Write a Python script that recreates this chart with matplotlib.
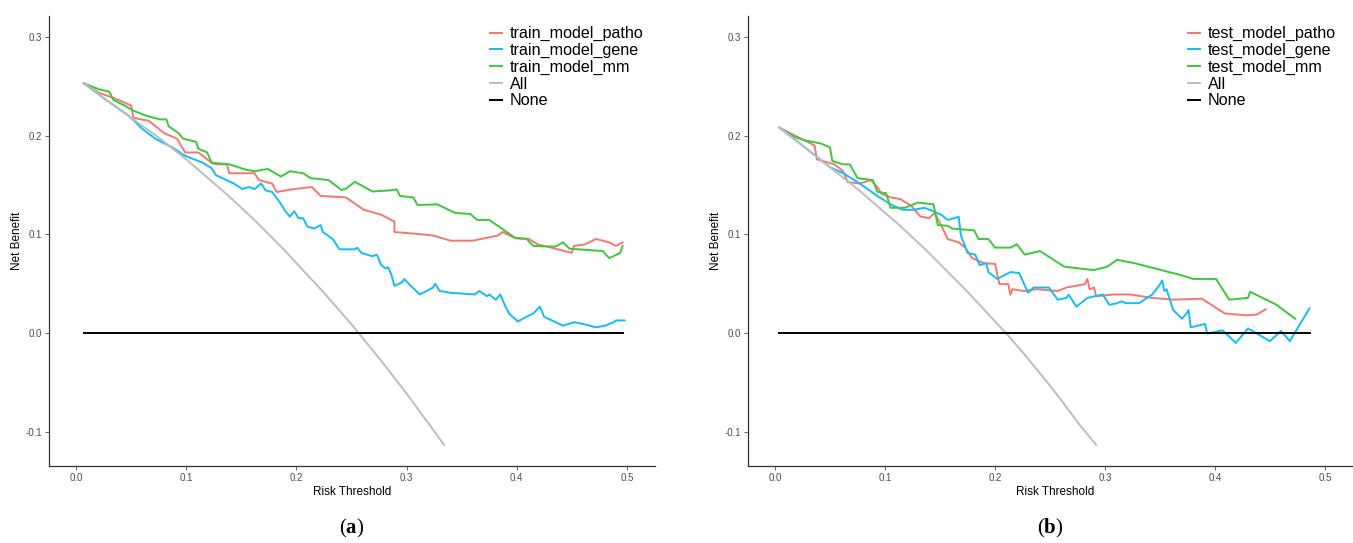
import numpy as np
import matplotlib
matplotlib.use("Agg")
import matplotlib.pyplot as plt

plt.rcParams['font.family'] = ['Liberation Sans', 'DejaVu Sans']
plt.rcParams['mathtext.fontset'] = 'custom'
plt.rcParams['mathtext.bf'] = 'Liberation Serif:bold'
plt.rcParams['mathtext.rm'] = 'Liberation Serif'

# colours (ggplot-like)
RED = '#F8766D'
BLUE = '#14BDF5'
GREEN = '#3CC83C'
GREY = '#BDBDBD'

# ---- panel (a): training set ----
tr_all_x = [0.007, 0.0125, 0.025, 0.0375, 0.05, 0.0625, 0.075, 0.0875, 0.1, 0.1125, 0.125, 0.1375, 0.15,
            0.1625, 0.175, 0.1875, 0.2, 0.2125, 0.225, 0.2375, 0.25, 0.2625, 0.275, 0.2875, 0.3, 0.3125,
            0.325, 0.334]
tr_all_y = [0.253, 0.249, 0.238, 0.228, 0.218, 0.208, 0.198, 0.187, 0.176, 0.164, 0.152, 0.140, 0.127,
            0.114, 0.100, 0.086, 0.071, 0.056, 0.041, 0.025, 0.009, -0.008, -0.025, -0.043, -0.061, -0.080,
            -0.099, -0.113]

tr_patho_x = [0.007, 0.0205, 0.0355, 0.050, 0.052, 0.066, 0.080, 0.0915, 0.099, 0.111, 0.123, 0.127, 0.137,
              0.139, 0.162, 0.166, 0.178, 0.182, 0.198, 0.214, 0.222, 0.245, 0.261, 0.277, 0.289, 0.289,
              0.308, 0.324, 0.340, 0.360, 0.383, 0.387, 0.397, 0.411, 0.419, 0.431, 0.450, 0.452, 0.462,
              0.472, 0.478, 0.484, 0.490, 0.496]
tr_patho_y = [0.253, 0.2435, 0.2375, 0.2305, 0.218, 0.215, 0.2025, 0.197, 0.183, 0.183, 0.1725, 0.171, 0.171,
              0.162, 0.162, 0.155, 0.1515, 0.143, 0.146, 0.148, 0.139, 0.1375, 0.125, 0.120, 0.113, 0.1025,
              0.1007, 0.099, 0.0937, 0.0937, 0.099, 0.1025, 0.097, 0.0954, 0.090, 0.0867, 0.0814, 0.0884, 0.090,
              0.0954, 0.0937, 0.092, 0.0884, 0.092]

tr_gene_x = [0.007, 0.025, 0.048, 0.060, 0.0718, 0.0875, 0.099, 0.115, 0.123, 0.127, 0.143, 0.151, 0.157,
             0.162, 0.168, 0.172, 0.178, 0.184, 0.190, 0.194, 0.198, 0.202, 0.206, 0.210, 0.216, 0.222,
             0.224, 0.233, 0.239, 0.253, 0.255, 0.259, 0.269, 0.273, 0.277, 0.281, 0.283, 0.286, 0.289,
             0.296, 0.298, 0.302, 0.312, 0.318, 0.324, 0.326, 0.330, 0.340, 0.362, 0.366, 0.373, 0.375,
             0.381, 0.385, 0.389, 0.393, 0.401, 0.411, 0.415, 0.421, 0.425, 0.432, 0.442, 0.452, 0.460,
             0.472, 0.480, 0.488, 0.490, 0.498]
tr_gene_y = [0.253, 0.238, 0.220, 0.207, 0.197, 0.188, 0.1796, 0.1726, 0.167, 0.160, 0.1516, 0.146, 0.148,
             0.146, 0.1516, 0.1446, 0.143, 0.134, 0.1235, 0.118, 0.1235, 0.1165, 0.1165, 0.108, 0.106, 0.1095,
             0.1025, 0.0954, 0.085, 0.085, 0.0867, 0.0814, 0.0779, 0.0796, 0.069, 0.0656, 0.067, 0.060, 0.048,
             0.0516, 0.055, 0.050, 0.0393, 0.0428, 0.0463, 0.050, 0.0428, 0.041, 0.0393, 0.0428, 0.0375, 0.0393,
             0.034, 0.0393, 0.0288, 0.020, 0.012, 0.018, 0.020, 0.027, 0.0165, 0.013, 0.0077, 0.0112, 0.0095,
             0.006, 0.0077, 0.0112, 0.013, 0.013]

tr_mm_x = [0.007, 0.0205, 0.030, 0.034, 0.044, 0.052, 0.064, 0.076, 0.082, 0.084, 0.093, 0.097, 0.109,
           0.111, 0.119, 0.123, 0.139, 0.154, 0.162, 0.174, 0.186, 0.194, 0.206, 0.213, 0.229, 0.241,
           0.245, 0.253, 0.269, 0.285, 0.291, 0.294, 0.306, 0.310, 0.328, 0.344, 0.358, 0.364, 0.375,
           0.389, 0.399, 0.409, 0.415, 0.435, 0.442, 0.448, 0.466, 0.478, 0.484, 0.494, 0.496]
tr_mm_y = [0.253, 0.247, 0.2446, 0.236, 0.2305, 0.2253, 0.220, 0.2165, 0.2165, 0.2095, 0.2025, 0.197, 0.1937,
           0.1867, 0.183, 0.1726, 0.171, 0.1656, 0.164, 0.1663, 0.1586, 0.164, 0.162, 0.157, 0.1551, 0.145,
           0.1463, 0.1533, 0.1435, 0.1446, 0.1456, 0.139, 0.1375, 0.1298, 0.1305, 0.1218, 0.1207, 0.1147, 0.1147,
           0.104, 0.0961, 0.0954, 0.0884, 0.0877, 0.092, 0.0856, 0.0842, 0.0832, 0.0761, 0.0814, 0.0884]

tr_none_x = [0.007, 0.496]
tr_none_y = [0.0, 0.0]

# ---- panel (b): test set ----
te_all_x = [0.004, 0.0125, 0.025, 0.0375, 0.05, 0.0625, 0.075, 0.0875, 0.1, 0.1125, 0.125, 0.1375, 0.15,
            0.1625, 0.175, 0.1875, 0.2, 0.2125, 0.225, 0.2375, 0.25, 0.2625, 0.275, 0.2875, 0.292]
te_all_y = [0.208, 0.201, 0.190, 0.179, 0.168, 0.157, 0.146, 0.134, 0.122, 0.110, 0.097, 0.084, 0.070,
            0.056, 0.042, 0.027, 0.012, -0.003, -0.019, -0.036, -0.053, -0.071, -0.090, -0.107, -0.113]

te_patho_x = [0.004, 0.0265, 0.036, 0.038, 0.054, 0.062, 0.066, 0.077, 0.087, 0.093, 0.097, 0.105, 0.114,
              0.124, 0.132, 0.140, 0.145, 0.151, 0.157, 0.167, 0.173, 0.179, 0.190, 0.200, 0.204, 0.212,
              0.214, 0.216, 0.226, 0.238, 0.257, 0.265, 0.282, 0.284, 0.286, 0.290, 0.292, 0.308, 0.323,
              0.343, 0.362, 0.388, 0.409, 0.429, 0.438, 0.446]
te_patho_y = [0.208, 0.1954, 0.190, 0.176, 0.171, 0.1639, 0.153, 0.1516, 0.155, 0.148, 0.141, 0.1375, 0.1358,
              0.1288, 0.1182, 0.1165, 0.1218, 0.1095, 0.0954, 0.092, 0.0867, 0.0761, 0.0709, 0.0702, 0.0498, 0.0498,
              0.039, 0.0446, 0.0428, 0.0446, 0.0428, 0.0463, 0.0498, 0.055, 0.0446, 0.0463, 0.0375, 0.0393, 0.0393,
              0.0358, 0.034, 0.035, 0.020, 0.0182, 0.019, 0.0242]

te_gene_x = [0.004, 0.025, 0.05, 0.062, 0.077, 0.093, 0.105, 0.116, 0.126, 0.136, 0.144, 0.151, 0.157,
             0.165, 0.167, 0.169, 0.175, 0.182, 0.186, 0.192, 0.194, 0.202, 0.214, 0.222, 0.230, 0.235,
             0.249, 0.257, 0.265, 0.267, 0.274, 0.284, 0.298, 0.304, 0.311, 0.315, 0.319, 0.331, 0.343,
             0.349, 0.352, 0.354, 0.356, 0.362, 0.370, 0.374, 0.376, 0.378, 0.391, 0.393, 0.407, 0.419,
             0.430, 0.450, 0.460, 0.468, 0.486]
te_gene_y = [0.208, 0.190, 0.168, 0.162, 0.1516, 0.139, 0.1305, 0.125, 0.125, 0.127, 0.1235, 0.120, 0.1147,
             0.1172, 0.118, 0.099, 0.0814, 0.0796, 0.069, 0.0709, 0.062, 0.055, 0.062, 0.061, 0.041, 0.0463,
             0.0463, 0.034, 0.0358, 0.039, 0.027, 0.0358, 0.0393, 0.0288, 0.0305, 0.0323, 0.0305, 0.0305, 0.0393,
             0.048, 0.0533, 0.0428, 0.0446, 0.0235, 0.0147, 0.020, 0.0235, 0.006, 0.0095, -0.0004, 0.003, -0.0098,
             0.0049, -0.008, 0.0025, -0.008, 0.0253]

te_mm_x = [0.004, 0.017, 0.0265, 0.042, 0.050, 0.052, 0.062, 0.068, 0.075, 0.089, 0.093, 0.101, 0.105,
           0.118, 0.130, 0.144, 0.148, 0.157, 0.161, 0.181, 0.185, 0.194, 0.200, 0.214, 0.220, 0.227,
           0.241, 0.263, 0.290, 0.302, 0.311, 0.327, 0.370, 0.380, 0.401, 0.413, 0.430, 0.432, 0.456, 0.473]
te_mm_y = [0.208, 0.199, 0.1954, 0.192, 0.188, 0.1744, 0.171, 0.171, 0.157, 0.155, 0.143, 0.1418, 0.127,
           0.127, 0.1323, 0.1305, 0.1095, 0.1088, 0.106, 0.1042, 0.0954, 0.0954, 0.0867, 0.0867, 0.090, 0.0796,
           0.0832, 0.0674, 0.0639, 0.0674, 0.0744, 0.0709, 0.0586, 0.055, 0.055, 0.034, 0.0358, 0.042, 0.0288, 0.0147]

te_none_x = [0.004, 0.486]
te_none_y = [0.0, 0.0]

xticks = [0.0, 0.1, 0.2, 0.3, 0.4, 0.5]
yticks = [-0.1, 0.0, 0.1, 0.2, 0.3]

fig = plt.figure(figsize=(13.53, 5.43), dpi=100)
W, H = 1353, 543
ax1 = fig.add_axes([49 / W, 1 - 466 / H, (655 - 49) / W, (466 - 15.5) / H])
ax2 = fig.add_axes([748 / W, 1 - 466 / H, (1353 - 748) / W, (466 - 15.5) / H])


def draw_panel(ax, series, names, tag, xlab_x):
    for (x, y, c), name in zip(series, names):
        ax.plot(x, y, color=c, lw=1.4, label=name)
    ax.set_xlim(-0.0246, 0.5255)
    ax.set_ylim(-0.1343, 0.3216)
    ax.set_xticks(xticks)
    ax.set_xticklabels([f'{t:.1f}' for t in xticks])
    ax.set_yticks(yticks)
    ax.set_yticklabels([f'{t:.1f}' for t in yticks])
    ax.tick_params(labelsize=7, colors='#4D4D4D', length=3, width=0.6, pad=2)
    for s in ['top', 'right']:
        ax.spines[s].set_visible(False)
    for s in ['left', 'bottom']:
        ax.spines[s].set_linewidth(0.9)
        ax.spines[s].set_color('#333333')
    ax.set_xlabel('Risk Threshold', fontsize=8.5)
    ax.set_ylabel('Net Benefit', fontsize=8.5)
    ax.xaxis.set_label_coords(xlab_x, -0.044)
    ax.yaxis.set_label_coords(-0.043, 0.5)
    ax.legend(loc='upper left', bbox_to_anchor=(0.727, 0.976), frameon=False, fontsize=11.6,
              handlelength=0.75, handletextpad=0.5, labelspacing=0.1, borderpad=0, borderaxespad=0)
    ax.text(0.5, -0.138, r'($\mathbf{' + tag + r'}$)', transform=ax.transAxes, ha='center', va='center',
            fontsize=15, family='Liberation Serif')


draw_panel(ax1,
           [(tr_patho_x, tr_patho_y, RED), (tr_gene_x, tr_gene_y, BLUE), (tr_mm_x, tr_mm_y, GREEN),
            (tr_all_x, tr_all_y, GREY), (tr_none_x, tr_none_y, 'black')],
           ['train_model_patho', 'train_model_gene', 'train_model_mm', 'All', 'None'], 'a', 0.5)
draw_panel(ax2,
           [(te_patho_x, te_patho_y, RED), (te_gene_x, te_gene_y, BLUE), (te_mm_x, te_mm_y, GREEN),
            (te_all_x, te_all_y, GREY), (te_none_x, te_none_y, 'black')],
           ['test_model_patho', 'test_model_gene', 'test_model_mm', 'All', 'None'], 'b', 0.508)

fig.savefig('out.png', dpi=100)
